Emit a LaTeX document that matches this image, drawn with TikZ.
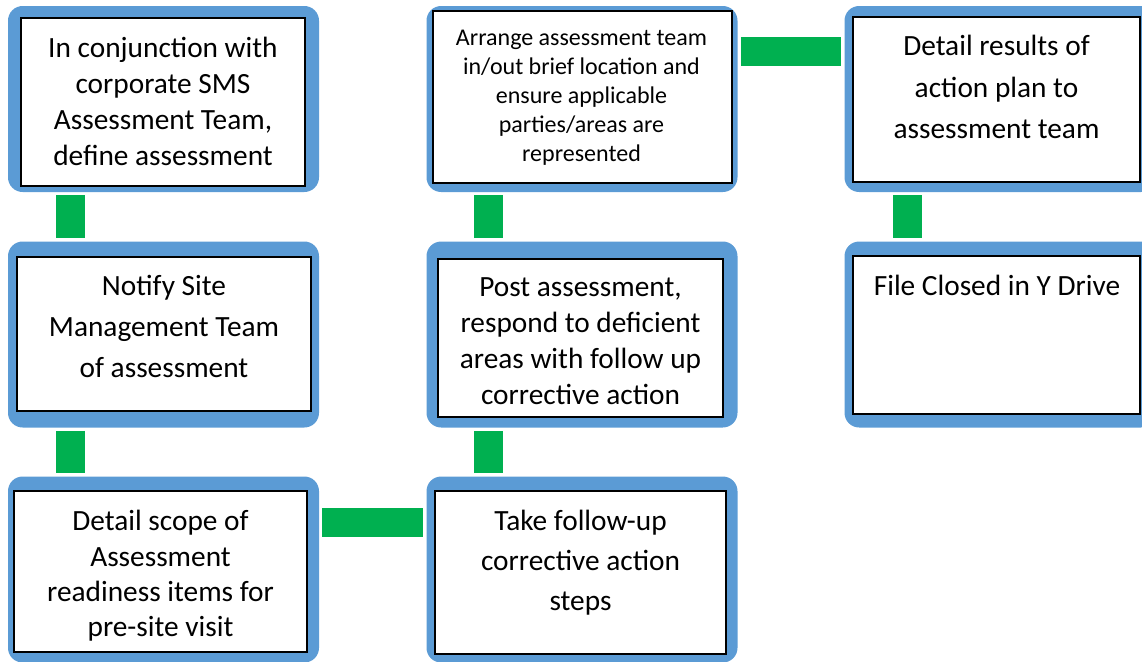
\documentclass[tikz,border=0pt]{standalone}
\usepackage{fontspec}
\setmainfont{Carlito}
\usetikzlibrary{positioning}
\definecolor{panelblue}{RGB}{91,155,213}
\definecolor{linkgreen}{RGB}{0,176,80}
\newcommand{\pxu}{0.75pt}

\begin{document}
\begin{tikzpicture}[
  x=\pxu, y=-\pxu,
  panel/.style={rectangle, fill=panelblue, rounded corners=11pt, minimum width=311*\pxu, minimum height=186*\pxu, inner sep=0pt},
  card/.style={rectangle, draw=black, line width=1.5pt, fill=white, inner sep=0pt},
  txt/.style={align=center, inner sep=0pt, font=\fontsize{22pt}{#1}\selectfont},
  txt/.default=27pt,
  link/.style={draw=linkgreen, line width=21.75pt, shorten <=2.4pt, shorten >=2.4pt}
]
\useasboundingbox (0,0) rectangle (1142,661);
\clip (0,0) rectangle (1142,661);

% outer panels
\node[panel] (defineP) at (163.5,99) {};
\node[panel] (notifyP) at (163.5,334.5) {};
\node[panel] (scopeP) at (163.5,569.5) {};
\node[panel] (takeP) at (582,569.5) {};
\node[panel] (postP) at (582,334.5) {};
\node[panel] (arrangeP) at (582,99) {};
\node[panel] (resultsP) at (1000,99) {};
\node[panel] (closedP) at (1000,334.5) {};

% inner cards
\node[card, minimum width=284*\pxu, minimum height=168*\pxu] (define) at (163,102) {};
\node[card, minimum width=294*\pxu, minimum height=154*\pxu] (notify) at (164,334) {};
\node[card, minimum width=293*\pxu, minimum height=161*\pxu] (scope) at (160.5,571.5) {};
\node[card, minimum width=291*\pxu, minimum height=163*\pxu] (take) at (580.5,572.5) {};
\node[card, minimum width=285*\pxu, minimum height=158*\pxu] (post) at (580.5,338) {};
\node[card, minimum width=299*\pxu, minimum height=172*\pxu] (arrange) at (582.5,97) {};
\node[card, minimum width=287*\pxu, minimum height=165*\pxu] (results) at (996.5,99.5) {};
\node[card, minimum width=287*\pxu, minimum height=158*\pxu] (closed) at (996.5,335) {};

% texts
\node[txt] (defineT) at (163,101) {In conjunction with\\corporate SMS\\Assessment Team,\\define assessment};
\node[txt=30.75pt] (notifyT) at (164,326.5) {Notify Site\\Management Team\\of assessment};
\node[txt=26.5pt] (scopeT) at (160.5,576) {Detail scope of\\Assessment\\readiness items for\\pre-site visit};
\node[txt=30pt] (takeT) at (580.5,563) {Take follow-up\\corrective action\\steps};
\node[txt] (postT) at (580.5,341.5) {Post assessment,\\respond to deficient\\areas with follow up\\corrective action};
\node[txt, font=\fontsize{18pt}{21.75pt}\selectfont] (arrangeT) at (581.5,97.5) {Arrange assessment team\\in/out brief location and\\ensure applicable\\parties/areas are\\represented};
\node[txt=31pt] (resultsT) at (996.5,87) {Detail results of\\action plan to\\assessment team};
\node[txt] (closedT) at (997,285.5) {File Closed in Y Drive};

% connectors
\coordinate (colA) at (70.5,0);
\coordinate (colB) at (488.5,0);
\coordinate (colC) at (907.5,0);
\coordinate (rowA) at (0,51.5);
\coordinate (rowB) at (0,522.5);
\draw[link] (defineP.south -| colA) -- (notifyP.north -| colA);
\draw[link] (notifyP.south -| colA) -- (scopeP.north -| colA);
\draw[link] (scopeP.east |- rowB) -- (takeP.west |- rowB);
\draw[link] (takeP.north -| colB) -- (postP.south -| colB);
\draw[link] (postP.north -| colB) -- (arrangeP.south -| colB);
\draw[link] (arrangeP.east |- rowA) -- (resultsP.west |- rowA);
\draw[link] (resultsP.south -| colC) -- (closedP.north -| colC);
\end{tikzpicture}
\end{document}
